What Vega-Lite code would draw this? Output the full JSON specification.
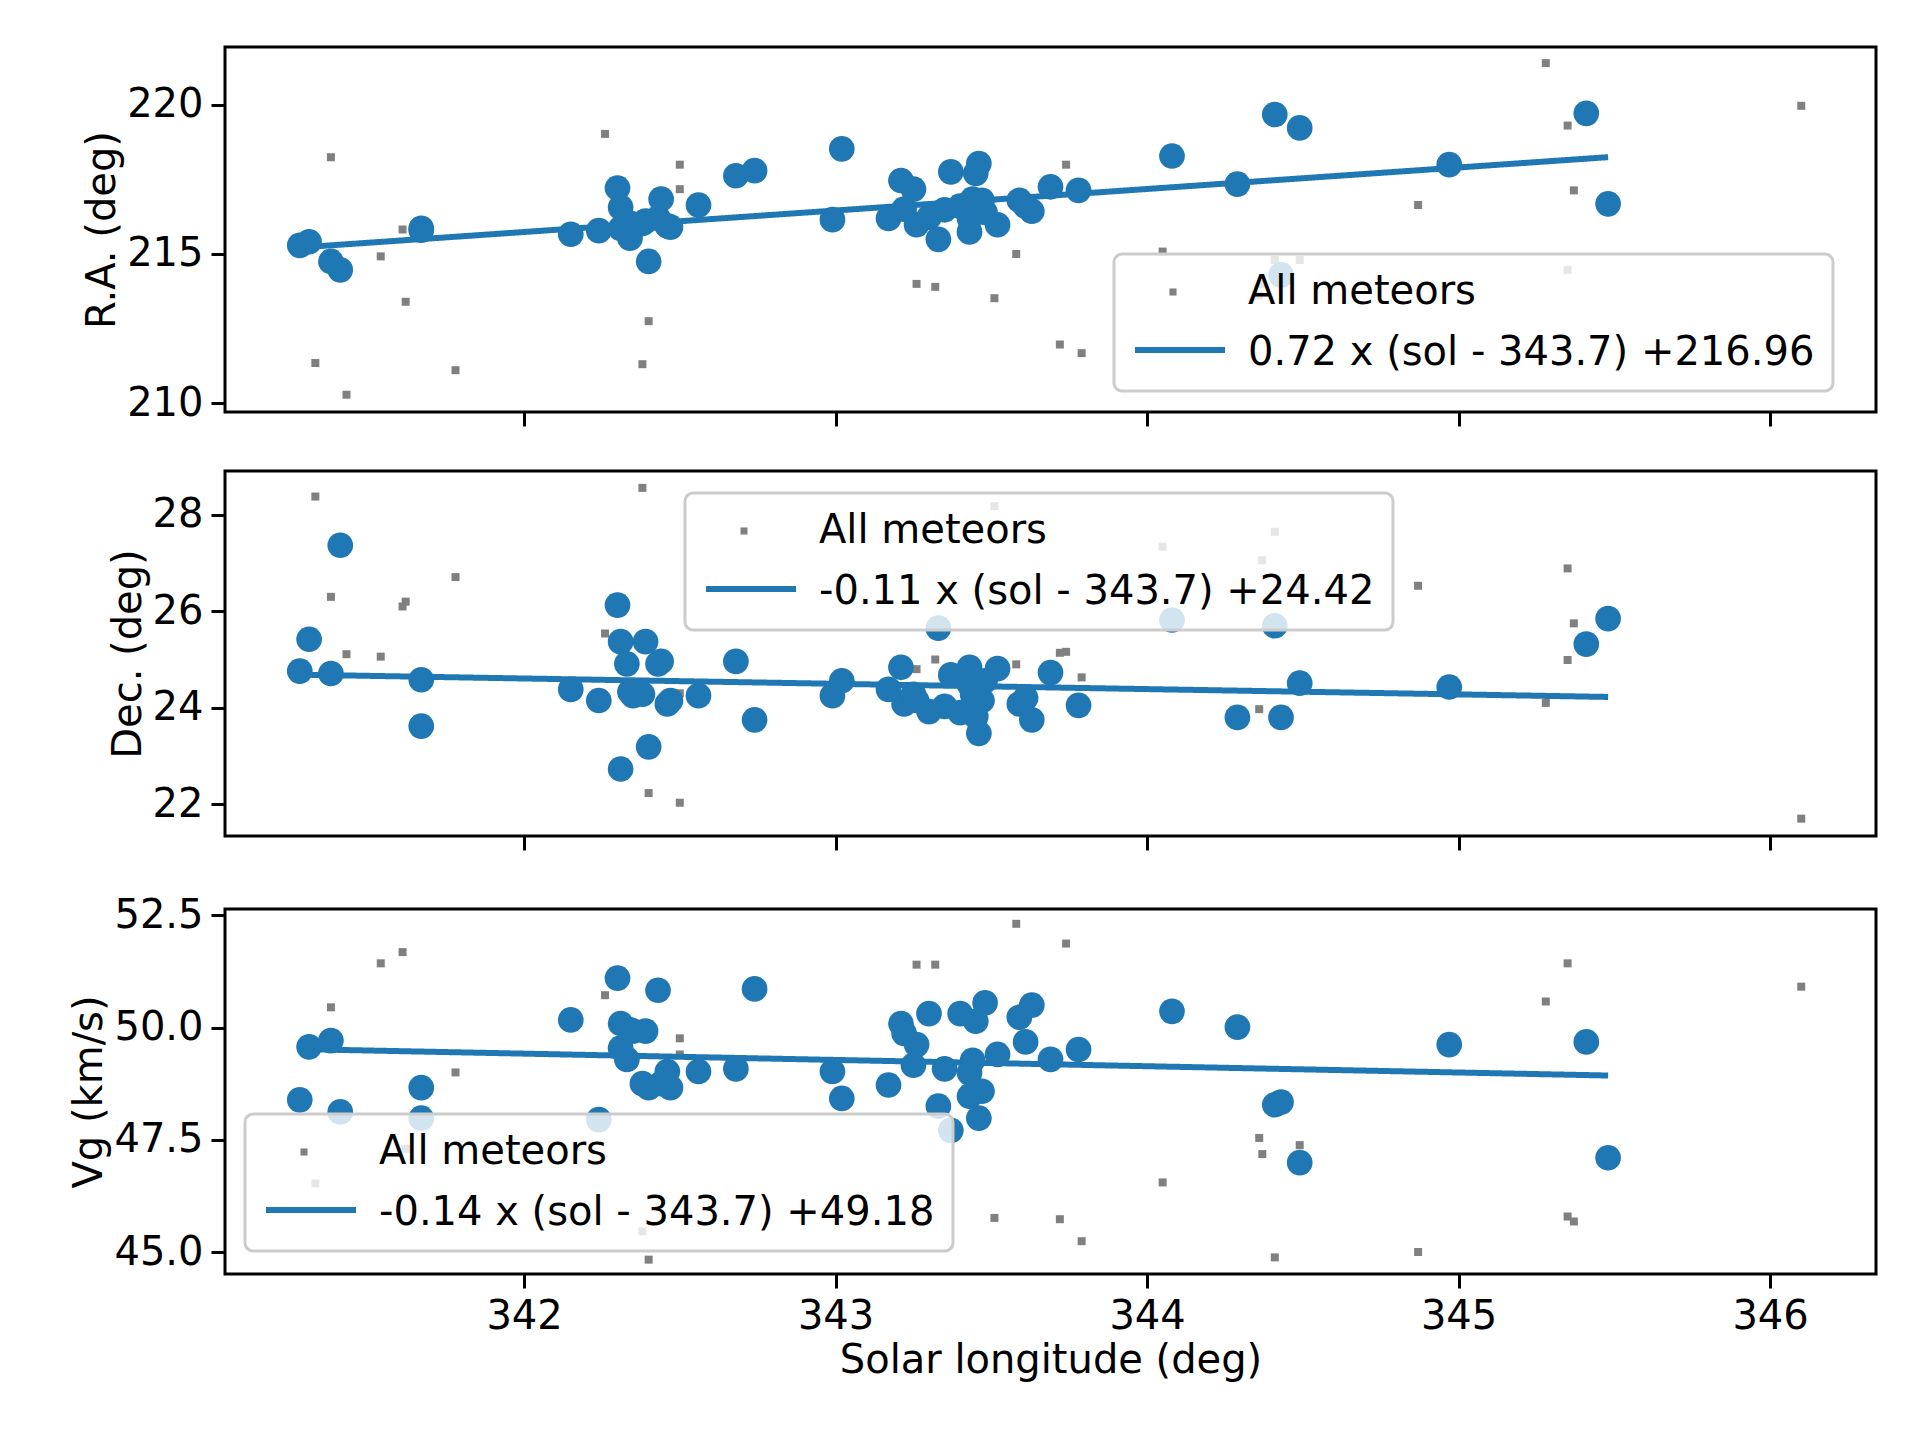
{
  "$schema": "https://vega.github.io/schema/vega-lite/v6.json",
  "background": "white",
  "padding": {"left": 68, "top": 45, "right": 40, "bottom": 10},
  "config": {
    "font": "DejaVu Sans",
    "view": {"stroke": "black", "strokeWidth": 3},
    "axis": {"grid": false, "domain": false, "tickColor": "black", "tickWidth": 3, "tickSize": 14, "labelFontSize": 40, "titleFontSize": 40, "labelColor": "black", "titleColor": "black", "titleFontWeight": "normal", "labelPadding": 8, "labelFont": "DejaVu Sans", "titleFont": "DejaVu Sans"},
    "legend": {"labelFontSize": 40, "labelLimit": 1200, "labelFont": "DejaVu Sans", "labelColor": "black", "cornerRadius": 8, "padding": 18, "rowPadding": 21, "orient": "none", "title": null, "strokeWidth": 3},
    "concat": {"spacing": 40}
  },
  "datasets": {
    "m": [
      {"sol": 341.28, "ra": 215.29, "dec": 24.76, "vg": 48.39, "f": 1},
      {"sol": 341.31, "ra": 215.41, "dec": 25.42, "vg": 49.57, "f": 1},
      {"sol": 341.38, "ra": 214.75, "dec": 24.71, "vg": 49.71, "f": 1},
      {"sol": 341.41, "ra": 214.47, "dec": 27.37, "vg": 48.12, "f": 1},
      {"sol": 341.67, "ra": 215.86, "dec": 24.58, "vg": 48.66, "f": 1},
      {"sol": 341.67, "ra": 215.80, "dec": 23.62, "vg": 47.98, "f": 1},
      {"sol": 342.15, "ra": 215.66, "dec": 24.38, "vg": 50.17, "f": 1},
      {"sol": 342.24, "ra": 215.78, "dec": 24.15, "vg": 47.95, "f": 1},
      {"sol": 342.30, "ra": 217.21, "dec": 26.13, "vg": 51.10, "f": 1},
      {"sol": 342.31, "ra": 216.56, "dec": 22.73, "vg": 50.09, "f": 1},
      {"sol": 342.31, "ra": 215.86, "dec": 25.37, "vg": 49.54, "f": 1},
      {"sol": 342.33, "ra": 216.07, "dec": 24.91, "vg": 49.29, "f": 1},
      {"sol": 342.34, "ra": 215.53, "dec": 24.33, "vg": 49.95, "f": 1},
      {"sol": 342.35, "ra": 216.00, "dec": 24.25, "vg": 49.92, "f": 1},
      {"sol": 342.38, "ra": 216.02, "dec": 24.28, "vg": 48.75, "f": 1},
      {"sol": 342.39, "ra": 216.10, "dec": 25.37, "vg": 49.92, "f": 1},
      {"sol": 342.40, "ra": 214.75, "dec": 23.19, "vg": 48.66, "f": 1},
      {"sol": 342.43, "ra": 216.20, "dec": 24.91, "vg": 50.83, "f": 1},
      {"sol": 342.44, "ra": 216.84, "dec": 24.96, "vg": 48.75, "f": 1},
      {"sol": 342.46, "ra": 215.94, "dec": 24.08, "vg": 49.02, "f": 1},
      {"sol": 342.47, "ra": 215.90, "dec": 24.15, "vg": 48.66, "f": 1},
      {"sol": 342.56, "ra": 216.64, "dec": 24.25, "vg": 49.02, "f": 1},
      {"sol": 342.68, "ra": 217.62, "dec": 24.96, "vg": 49.08, "f": 1},
      {"sol": 342.74, "ra": 217.79, "dec": 23.75, "vg": 50.86, "f": 1},
      {"sol": 342.99, "ra": 216.15, "dec": 24.25, "vg": 49.02, "f": 1},
      {"sol": 343.02, "ra": 218.52, "dec": 24.56, "vg": 48.42, "f": 1},
      {"sol": 343.17, "ra": 216.19, "dec": 24.38, "vg": 48.72, "f": 1},
      {"sol": 343.21, "ra": 217.46, "dec": 24.84, "vg": 50.09, "f": 1},
      {"sol": 343.22, "ra": 216.50, "dec": 24.08, "vg": 49.87, "f": 1},
      {"sol": 343.25, "ra": 217.17, "dec": 24.28, "vg": 49.16, "f": 1},
      {"sol": 343.26, "ra": 215.98, "dec": 24.15, "vg": 49.62, "f": 1},
      {"sol": 343.30, "ra": 216.23, "dec": 23.92, "vg": 50.31, "f": 1},
      {"sol": 343.33, "ra": 215.49, "dec": 25.65, "vg": 48.25, "f": 1},
      {"sol": 343.35, "ra": 216.48, "dec": 24.03, "vg": 49.08, "f": 1},
      {"sol": 343.37, "ra": 217.75, "dec": 24.68, "vg": 47.71, "f": 1},
      {"sol": 343.40, "ra": 216.60, "dec": 23.90, "vg": 50.31, "f": 1},
      {"sol": 343.43, "ra": 216.19, "dec": 24.84, "vg": 48.47, "f": 1},
      {"sol": 343.43, "ra": 215.74, "dec": 24.48, "vg": 48.99, "f": 1},
      {"sol": 343.44, "ra": 216.84, "dec": 24.28, "vg": 49.27, "f": 1},
      {"sol": 343.45, "ra": 217.70, "dec": 23.82, "vg": 50.14, "f": 1},
      {"sol": 343.46, "ra": 218.03, "dec": 23.47, "vg": 47.98, "f": 1},
      {"sol": 343.47, "ra": 216.80, "dec": 24.15, "vg": 48.58, "f": 1},
      {"sol": 343.48, "ra": 216.39, "dec": 24.56, "vg": 50.55, "f": 1},
      {"sol": 343.52, "ra": 215.98, "dec": 24.81, "vg": 49.40, "f": 1},
      {"sol": 343.59, "ra": 216.80, "dec": 24.08, "vg": 50.23, "f": 1},
      {"sol": 343.61, "ra": 216.60, "dec": 24.20, "vg": 49.68, "f": 1},
      {"sol": 343.63, "ra": 216.43, "dec": 23.75, "vg": 50.50, "f": 1},
      {"sol": 343.69, "ra": 217.25, "dec": 24.73, "vg": 49.29, "f": 1},
      {"sol": 343.78, "ra": 217.13, "dec": 24.05, "vg": 49.51, "f": 1},
      {"sol": 344.08, "ra": 218.28, "dec": 25.82, "vg": 50.36, "f": 1},
      {"sol": 344.29, "ra": 217.34, "dec": 23.80, "vg": 50.01, "f": 1},
      {"sol": 344.41, "ra": 219.67, "dec": 25.70, "vg": 48.28, "f": 1},
      {"sol": 344.43, "ra": 214.30, "dec": 23.80, "vg": 48.34, "f": 1},
      {"sol": 344.49, "ra": 219.22, "dec": 24.51, "vg": 46.99, "f": 1},
      {"sol": 344.97, "ra": 217.99, "dec": 24.43, "vg": 49.62, "f": 1},
      {"sol": 345.41, "ra": 219.71, "dec": 25.32, "vg": 49.68, "f": 1},
      {"sol": 345.48, "ra": 216.68, "dec": 25.85, "vg": 47.10, "f": 1},
      {"sol": 341.33, "ra": 211.35, "dec": 28.38, "vg": 46.53, "f": 0},
      {"sol": 341.38, "ra": 218.24, "dec": 26.30, "vg": 50.45, "f": 0},
      {"sol": 341.43, "ra": 210.29, "dec": 25.11, "vg": 48.20, "f": 0},
      {"sol": 341.54, "ra": 214.92, "dec": 25.06, "vg": 51.43, "f": 0},
      {"sol": 341.61, "ra": 215.82, "dec": 26.10, "vg": 51.68, "f": 0},
      {"sol": 341.62, "ra": 213.40, "dec": 26.20, "vg": 47.30, "f": 0},
      {"sol": 341.78, "ra": 211.11, "dec": 26.71, "vg": 49.00, "f": 0},
      {"sol": 342.26, "ra": 219.02, "dec": 25.54, "vg": 50.72, "f": 0},
      {"sol": 342.38, "ra": 211.31, "dec": 28.56, "vg": 45.46, "f": 0},
      {"sol": 342.40, "ra": 212.75, "dec": 22.23, "vg": 44.83, "f": 0},
      {"sol": 342.50, "ra": 217.99, "dec": 22.03, "vg": 49.76, "f": 0},
      {"sol": 342.50, "ra": 217.17, "dec": 24.30, "vg": 49.40, "f": 0},
      {"sol": 343.26, "ra": 214.00, "dec": 24.80, "vg": 51.40, "f": 0},
      {"sol": 343.32, "ra": 213.90, "dec": 25.00, "vg": 51.40, "f": 0},
      {"sol": 343.51, "ra": 213.52, "dec": 28.18, "vg": 45.76, "f": 0},
      {"sol": 343.58, "ra": 215.00, "dec": 24.90, "vg": 52.31, "f": 0},
      {"sol": 343.72, "ra": 211.97, "dec": 25.14, "vg": 45.73, "f": 0},
      {"sol": 343.74, "ra": 217.99, "dec": 25.16, "vg": 51.87, "f": 0},
      {"sol": 343.79, "ra": 211.68, "dec": 24.63, "vg": 45.24, "f": 0},
      {"sol": 344.05, "ra": 215.08, "dec": 27.34, "vg": 46.55, "f": 0},
      {"sol": 344.36, "ra": 213.61, "dec": 23.97, "vg": 47.54, "f": 0},
      {"sol": 344.37, "ra": 214.00, "dec": 27.06, "vg": 47.18, "f": 0},
      {"sol": 344.41, "ra": 214.80, "dec": 27.65, "vg": 44.88, "f": 0},
      {"sol": 344.49, "ra": 214.80, "dec": 26.53, "vg": 47.38, "f": 0},
      {"sol": 344.87, "ra": 216.64, "dec": 26.53, "vg": 45.00, "f": 0},
      {"sol": 345.28, "ra": 221.39, "dec": 24.10, "vg": 50.58, "f": 0},
      {"sol": 345.35, "ra": 219.30, "dec": 26.89, "vg": 51.43, "f": 0},
      {"sol": 345.35, "ra": 214.47, "dec": 24.99, "vg": 45.79, "f": 0},
      {"sol": 345.37, "ra": 217.13, "dec": 25.75, "vg": 45.68, "f": 0},
      {"sol": 346.10, "ra": 219.96, "dec": 21.70, "vg": 50.91, "f": 0}
    ],
    "fit": [
      {"sol": 341.28, "ra": 215.218, "dec": 24.686, "vg": 49.519},
      {"sol": 345.48, "ra": 218.242, "dec": 24.224, "vg": 48.931}
    ]
  },
  "resolve": {"scale": {"color": "independent", "strokeDash": "independent"}, "legend": {"color": "independent", "strokeDash": "independent"}},
  "vconcat": [
    {
      "width": 1651, "height": 365,
      "layer": [
        {"data": {"name": "m"}, "mark": {"type": "point", "filled": true, "opacity": 1, "shape": "square", "size": 64},
         "encoding": {
           "x": {"field": "sol", "type": "quantitative", "scale": {"domain": [341.04, 346.34], "nice": false, "zero": false}, "axis": {"values": [342, 343, 344, 345, 346], "labels": false, "title": null}},
           "y": {"field": "ra", "type": "quantitative", "scale": {"domain": [209.71, 221.93], "nice": false, "zero": false}, "axis": {"values": [210, 215, 220], "title": "R.A. (deg)"}},
           "color": {"datum": "All meteors", "scale": {"domain": ["All meteors", "0.72 x (sol - 343.7) +216.96"], "range": ["#808080", "rgba(0,0,0,0)"]},
             "legend": {"legendX": 889, "legendY": 207, "symbolType": "square", "symbolSize": 50, "symbolOffset": 21, "labelOffset": 55, "fillColor": "rgba(255,255,255,0.8)", "strokeColor": "#cccccc"}}
         }},
        {"data": {"name": "m"}, "transform": [{"filter": "datum.f == 1"}], "mark": {"type": "circle", "color": "#1f77b4", "opacity": 1, "size": 660},
         "encoding": {"x": {"field": "sol", "type": "quantitative"}, "y": {"field": "ra", "type": "quantitative"}}},
        {"data": {"name": "fit"}, "mark": {"type": "line", "color": "#1f77b4", "strokeWidth": 6},
         "encoding": {"x": {"field": "sol", "type": "quantitative"}, "y": {"field": "ra", "type": "quantitative"},
           "strokeDash": {"datum": "fit", "scale": {"domain": ["fit"], "range": [[1, 0]]},
             "legend": {"legendX": 889, "legendY": 237, "symbolType": "stroke", "symbolSize": 8100, "symbolStrokeWidth": 6, "symbolStrokeColor": "#1f77b4", "labelOpacity": 0, "fillColor": "transparent", "strokeColor": "transparent"}}}}
      ]
    },
    {
      "width": 1651, "height": 365,
      "layer": [
        {"data": {"name": "m"}, "mark": {"type": "point", "filled": true, "opacity": 1, "shape": "square", "size": 64},
         "encoding": {
           "x": {"field": "sol", "type": "quantitative", "scale": {"domain": [341.04, 346.34], "nice": false, "zero": false}, "axis": {"values": [342, 343, 344, 345, 346], "labels": false, "title": null}},
           "y": {"field": "dec", "type": "quantitative", "scale": {"domain": [21.34, 28.91], "nice": false, "zero": false}, "axis": {"values": [22, 24, 26, 28], "title": "Dec. (deg)"}},
           "color": {"datum": "All meteors", "scale": {"domain": ["All meteors", "-0.11 x (sol - 343.7) +24.42"], "range": ["#808080", "rgba(0,0,0,0)"]},
             "legend": {"legendX": 460, "legendY": 22, "symbolType": "square", "symbolSize": 50, "symbolOffset": 21, "labelOffset": 55, "fillColor": "rgba(255,255,255,0.8)", "strokeColor": "#cccccc"}}
         }},
        {"data": {"name": "m"}, "transform": [{"filter": "datum.f == 1"}], "mark": {"type": "circle", "color": "#1f77b4", "opacity": 1, "size": 660},
         "encoding": {"x": {"field": "sol", "type": "quantitative"}, "y": {"field": "dec", "type": "quantitative"}}},
        {"data": {"name": "fit"}, "mark": {"type": "line", "color": "#1f77b4", "strokeWidth": 6},
         "encoding": {"x": {"field": "sol", "type": "quantitative"}, "y": {"field": "dec", "type": "quantitative"},
           "strokeDash": {"datum": "fit", "scale": {"domain": ["fit"], "range": [[1, 0]]},
             "legend": {"legendX": 460, "legendY": 52, "symbolType": "stroke", "symbolSize": 8100, "symbolStrokeWidth": 6, "symbolStrokeColor": "#1f77b4", "labelOpacity": 0, "fillColor": "transparent", "strokeColor": "transparent"}}}}
      ]
    },
    {
      "width": 1651, "height": 365,
      "layer": [
        {"data": {"name": "m"}, "mark": {"type": "point", "filled": true, "opacity": 1, "shape": "square", "size": 64},
         "encoding": {
           "x": {"field": "sol", "type": "quantitative", "scale": {"domain": [341.04, 346.34], "nice": false, "zero": false}, "axis": {"values": [342, 343, 344, 345, 346], "format": "d", "title": "Solar longitude (deg)"}},
           "y": {"field": "vg", "type": "quantitative", "scale": {"domain": [44.51, 52.64], "nice": false, "zero": false}, "axis": {"values": [45, 47.5, 50, 52.5], "format": ".1f", "title": "Vg (km/s)"}},
           "color": {"datum": "All meteors", "scale": {"domain": ["All meteors", "-0.14 x (sol - 343.7) +49.18"], "range": ["#808080", "rgba(0,0,0,0)"]},
             "legend": {"legendX": 20, "legendY": 205, "symbolType": "square", "symbolSize": 50, "symbolOffset": 21, "labelOffset": 55, "fillColor": "rgba(255,255,255,0.8)", "strokeColor": "#cccccc"}}
         }},
        {"data": {"name": "m"}, "transform": [{"filter": "datum.f == 1"}], "mark": {"type": "circle", "color": "#1f77b4", "opacity": 1, "size": 660},
         "encoding": {"x": {"field": "sol", "type": "quantitative"}, "y": {"field": "vg", "type": "quantitative"}}},
        {"data": {"name": "fit"}, "mark": {"type": "line", "color": "#1f77b4", "strokeWidth": 6},
         "encoding": {"x": {"field": "sol", "type": "quantitative"}, "y": {"field": "vg", "type": "quantitative"},
           "strokeDash": {"datum": "fit", "scale": {"domain": ["fit"], "range": [[1, 0]]},
             "legend": {"legendX": 20, "legendY": 235, "symbolType": "stroke", "symbolSize": 8100, "symbolStrokeWidth": 6, "symbolStrokeColor": "#1f77b4", "labelOpacity": 0, "fillColor": "transparent", "strokeColor": "transparent"}}}}
      ]
    }
  ]
}
